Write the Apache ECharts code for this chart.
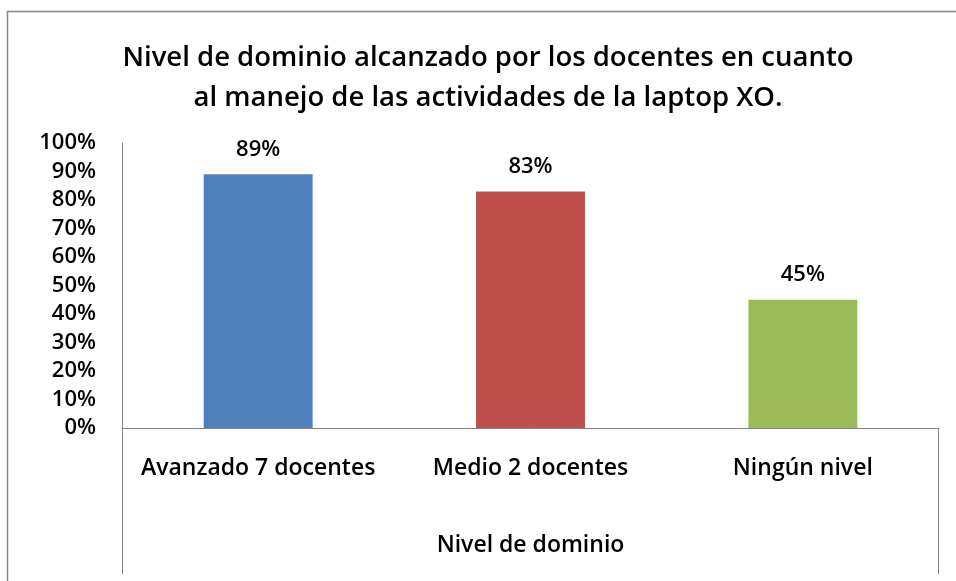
<!DOCTYPE html>
<html>
<head>
<meta charset="utf-8">
<script src="https://cdn.jsdelivr.net/npm/echarts@6/dist/echarts.min.js"></script>
<style>
  html, body { margin: 0; padding: 0; background: #fff; }
  #chart { width: 956px; height: 581px; }
</style>
</head>
<body>
<div id="chart"></div>
<script>
// datos del gráfico
const categories = ['Avanzado 7 docentes', 'Medio 2 docentes', 'Ningún nivel']
const values = [89, 83, 45]
const barColors = ['#4f81bd', '#c0504d', '#9bbb59']
const titleLines = [
  'Nivel de dominio alcanzado por los docentes en cuanto',
  'al manejo de las actividades de la laptop XO.'
]
const axisName = 'Nivel de dominio'

const font = '"Open Sans", sans-serif'
const lineColor = '#868686'

const chart = echarts.init(document.getElementById('chart'))

const option = {
  animation: false,
  backgroundColor: '#fff',
  title: {
    text: titleLines.join('\n'),
    left: 483,
    top: 33,
    textAlign: 'center',
    textStyle: {
      fontFamily: font,
      fontSize: 27.5,
      fontWeight: 600,
      color: '#000',
      lineHeight: 40,
    },
  },
  grid: { left: 122, right: 17, top: 143, bottom: 153 },
  xAxis: {
    type: 'category',
    data: categories,
    name: axisName,
    nameLocation: 'middle',
    nameGap: 106,
    nameTextStyle: { fontFamily: font, fontSize: 23, fontWeight: 600, color: '#000' },
    axisLine: { lineStyle: { color: lineColor, width: 1 } },
    axisTick: { show: false },
    axisLabel: {
      interval: 0,
      hideOverlap: false,
      fontFamily: font,
      fontSize: 23,
      fontWeight: 600,
      color: '#000',
      margin: 29,
    },
  },
  yAxis: {
    type: 'value',
    min: 0,
    max: 100,
    interval: 10,
    axisLine: { show: true, lineStyle: { color: lineColor, width: 1 } },
    axisTick: { show: false },
    splitLine: { show: false },
    axisLabel: {
      fontFamily: font,
      fontSize: 22,
      fontWeight: 600,
      color: '#000',
      margin: 26,
      formatter: '{value}%',
    },
  },
  graphic: [
    // borde exterior
    { type: 'rect', shape: { x: 7.5, y: 11.5, width: 1000, height: 700 }, style: { fill: null, stroke: lineColor, lineWidth: 1.5 }, silent: true },
    // prolongación del eje bajo las categorías
    { type: 'line', shape: { x1: 122.5, y1: 428, x2: 122.5, y2: 574 }, style: { stroke: lineColor, lineWidth: 1 }, silent: true },
    { type: 'line', shape: { x1: 938.5, y1: 428, x2: 938.5, y2: 574 }, style: { stroke: lineColor, lineWidth: 1 }, silent: true },
  ],
  series: [
    {
      type: 'bar',
      barWidth: '40%',
      data: values.map((v, i) => ({ value: v, itemStyle: { color: barColors[i] } })),
      label: {
        show: true,
        position: 'top',
        distance: 14,
        formatter: '{c}%',
        fontFamily: font,
        fontSize: 22,
        fontWeight: 600,
        color: '#000',
      },
    },
  ],
}

chart.setOption(option)
</script>
</body>
</html>
